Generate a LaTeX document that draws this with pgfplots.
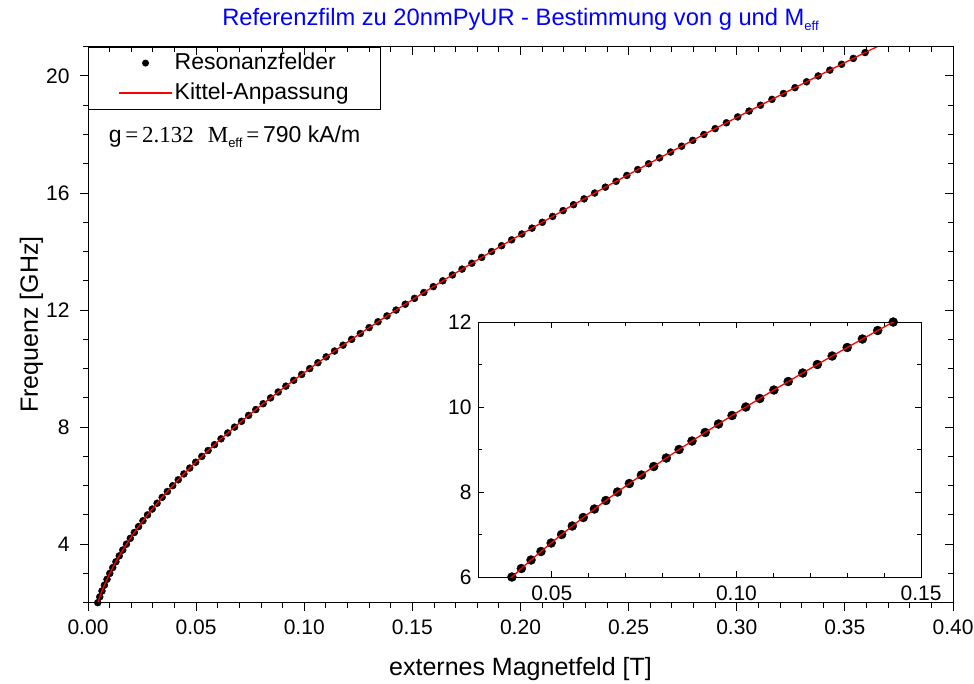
\documentclass[border=0pt]{standalone}
\usepackage{pgfplots}
\pgfplotsset{compat=1.18}
\usepackage{pgfplotstable}
\usepackage{fontspec}
\setmainfont{Liberation Sans}
\newfontfamily\serif{Liberation Serif}

% Resonance field B [T] versus frequency f [GHz]
\pgfplotstableread{
B f
0.004504 2.0
0.005445 2.2
0.006473 2.4
0.007589 2.6
0.008791 2.8
0.010079 3.0
0.011452 3.2
0.012910 3.4
0.014451 3.6
0.016075 3.8
0.017782 4.0
0.019570 4.2
0.021439 4.4
0.023387 4.6
0.025415 4.8
0.027518 5.0
0.029701 5.2
0.031960 5.4
0.034292 5.6
0.036700 5.8
0.039180 6.0
0.041732 6.2
0.044356 6.4
0.047049 6.6
0.049811 6.8
0.052642 7.0
0.055539 7.2
0.058502 7.4
0.061530 7.6
0.064621 7.8
0.067776 8.0
0.070992 8.2
0.074268 8.4
0.077604 8.6
0.080999 8.8
0.084451 9.0
0.087960 9.2
0.091524 9.4
0.095142 9.6
0.098814 9.8
0.102539 10.0
0.106315 10.2
0.110141 10.4
0.114018 10.6
0.117942 10.8
0.121915 11.0
0.125934 11.2
0.130000 11.4
0.134110 11.6
0.138265 11.8
0.142463 12.0
0.146703 12.2
0.150985 12.4
0.155308 12.6
0.159671 12.8
0.164073 13.0
0.168513 13.2
0.172991 13.4
0.177506 13.6
0.182057 13.8
0.186644 14.0
0.191265 14.2
0.195920 14.4
0.200609 14.6
0.205330 14.8
0.210084 15.0
0.214869 15.2
0.219684 15.4
0.224530 15.6
0.229405 15.8
0.234310 16.0
0.239242 16.2
0.244203 16.4
0.249190 16.6
0.254205 16.8
0.259245 17.0
0.264311 17.2
0.269403 17.4
0.274519 17.6
0.279659 17.8
0.284823 18.0
0.290010 18.2
0.295220 18.4
0.300452 18.6
0.305706 18.8
0.310981 19.0
0.316278 19.2
0.321595 19.4
0.326932 19.6
0.332290 19.8
0.337666 20.0
0.343062 20.2
0.348476 20.4
0.353909 20.6
0.359360 20.8
0.364828 21.0
0.370314 21.2
}\kittel

\begin{document}
\begin{tikzpicture}
\pgfplotsset{
  /pgf/number format/assume math mode=true,
  frame/.style={
    scale only axis,
    axis line style={black, line width=1bp},
    tick style={black, line width=1bp},
    scaled x ticks=false, scaled y ticks=false,
  },
}
% main axis: ticks outside on the left and bottom
\begin{axis}[
  frame, name=main,
  width=865bp, height=556bp,
  xmin=0, xmax=0.40, ymin=2, ymax=21,
  xtick={0,0.05,0.10,0.15,0.20,0.25,0.30,0.35,0.40},
  minor x tick num=4,
  ytick={4,8,12,16,20},
  minor ytick={2,3,5,6,7,9,10,11,13,14,15,17,18,19,21},
  tick align=outside, xtick pos=left, ytick pos=left,
  major tick length=8bp, minor tick length=5bp,
  xticklabel style={/pgf/number format/fixed, /pgf/number format/fixed zerofill,
    /pgf/number format/precision=2, font=\fontsize{21bp}{25bp}\selectfont,
    yshift=-6bp},
  yticklabel style={font=\fontsize{21bp}{25bp}\selectfont, xshift=-7bp},
  xlabel={externes Magnetfeld [T]},
  xlabel style={at={(axis description cs:0.5,0)}, anchor=base, yshift=-73bp,
    font=\fontsize{25bp}{30bp}\selectfont},
  clip mode=individual,
  legend style={at={(0,1)}, anchor=north west, draw=black, line width=0.8bp,
    fill=white, font=\fontsize{23bp}{27bp}\selectfont,
    inner xsep=30bp, inner ysep=3bp, row sep=4bp,
    nodes={inner sep=2bp, text height=17bp, text depth=5bp}},
  legend cell align=left,
]
\coordinate (mainSW) at (rel axis cs:0,0);
\coordinate (insetSW) at (rel axis cs:0.4509,0.0462);
\addplot[only marks, mark=*, mark size=3.5bp, mark options={fill=black, draw=black},
  restrict y to domain=1.9:20.9,
  legend image code/.code={\path[draw=none, fill=none] (0bp,0bp) -- (53bp,0bp);
    \path[draw=none, fill=black] (26.5bp,0bp) circle (3.5bp);}]
  table[x=B, y=f] {\kittel};
\addlegendentry{Resonanzfelder}
\addplot[red, line width=1.3bp, no marks,
  legend image code/.code={\draw[red, line width=1.3bp] (0bp,0bp) -- (53bp,0bp);}]
  table[x=B, y=f] {\kittel};
\addlegendentry{Kittel-Anpassung}
\node[anchor=base west, font=\fontsize{23bp}{27bp}\selectfont]
  at (rel axis cs:0.020,0.8268)
  {g\,{\serif=\,2.132\hspace{0.6em}M}\raisebox{-0.35ex}{\fontsize{13bp}{13bp}\selectfont eff}\,{\serif=}\,790 kA/m};
\end{axis}
% mirrored ticks pointing inward on top and right
\begin{axis}[
  frame,
  width=865bp, height=556bp,
  xmin=0, xmax=0.40, ymin=2, ymax=21,
  xtick={0,0.05,0.10,0.15,0.20,0.25,0.30,0.35,0.40},
  minor x tick num=4,
  ytick={4,8,12,16,20},
  minor ytick={2,3,5,6,7,9,10,11,13,14,15,17,18,19,21},
  tick align=inside, xtick pos=right, ytick pos=right,
  major tick length=8bp, minor tick length=5bp,
  xticklabels={}, yticklabels={},
]
\end{axis}
% y axis title
\node[rotate=90, anchor=base, font=\fontsize{25bp}{30bp}\selectfont]
  at ([xshift=-50bp]main.west) {Frequenz [GHz]};
% title
\node[anchor=base, text=blue, font=\fontsize{23.7bp}{28bp}\selectfont]
  at ([yshift=20.7bp]main.north) {Referenzfilm zu 20nmPyUR - Bestimmung von g und M\raisebox{-0.35ex}{\fontsize{13bp}{13bp}\selectfont eff}};
% inset: zoom on the 6--12 GHz range
\begin{axis}[
  frame,
  at={(insetSW)}, anchor=south west,
  width=443bp, height=255bp,
  xmin=0.03, xmax=0.15, ymin=6, ymax=12,
  xtick={0.05,0.10,0.15},
  minor xtick={0.03,0.04,0.06,0.07,0.08,0.09,0.11,0.12,0.13,0.14},
  ytick={6,8,10,12}, minor ytick={7,9,11},
  tick align=inside, xtick pos=both, ytick pos=both,
  xticklabel pos=left, yticklabel pos=left,
  major tick length=6bp, minor tick length=4bp,
  xticklabel style={/pgf/number format/fixed, /pgf/number format/fixed zerofill,
    /pgf/number format/precision=2, font=\fontsize{21bp}{25bp}\selectfont,
    yshift=-5bp},
  yticklabel style={font=\fontsize{21bp}{25bp}\selectfont, xshift=-3bp},
  axis background/.style={fill=white},
  clip mode=individual,
]
\addplot[only marks, mark=*, mark size=4.5bp, mark options={fill=black, draw=black},
  restrict y to domain=5.95:12.05]
  table[x=B, y=f] {\kittel};
\addplot[red, line width=1.3bp, no marks, restrict y to domain=5.7:12.3]
  table[x=B, y=f] {\kittel};
\end{axis}
\pgfresetboundingbox
\path (mainSW) ++(-88bp,-81.3bp) rectangle ++(974bp,684bp);
\end{tikzpicture}
\end{document}
